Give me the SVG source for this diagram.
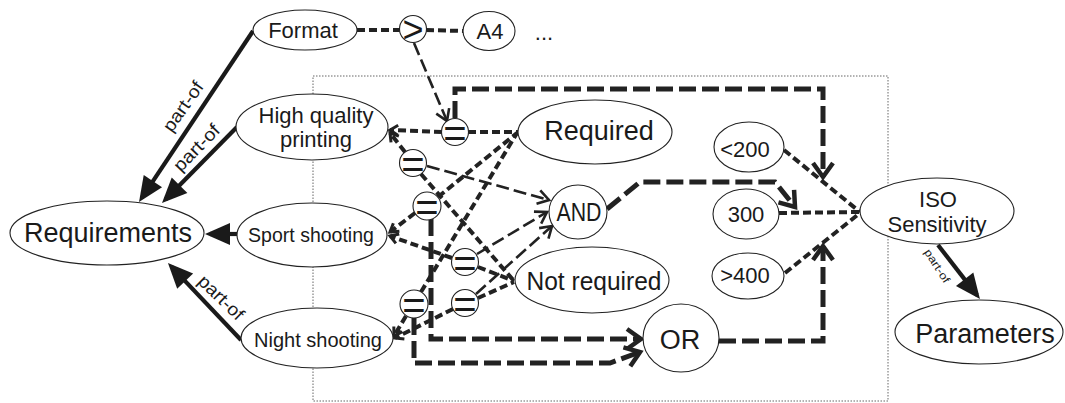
<svg xmlns="http://www.w3.org/2000/svg" width="1065" height="403" viewBox="0 0 1065 403">
  <style>
    .node { fill: #fff; stroke: #222; stroke-width: 1.1; }
    .lbl { font-family: "Liberation Sans", Arial, sans-serif; fill: #1a1a1a; text-anchor: middle; }
    .sym { font-family: "Liberation Sans", Arial, sans-serif; fill: #1a1a1a; text-anchor: middle; }
    .part { fill: none; stroke: #1a1a1a; stroke-width: 4.2; marker-end: url(#solid); }
    .sd { fill: none; stroke: #222; stroke-width: 4; stroke-dasharray: 8 4; }
    .ld { fill: none; stroke: #222; stroke-width: 2.6; stroke-dasharray: 13 5; marker-end: url(#vthin); }
    .lD { fill: none; stroke: #222; stroke-width: 5; stroke-dasharray: 17 6; marker-end: url(#vbig); stroke-linejoin: miter; }
    .toAttr { marker-end: url(#vsmall); }
    .frame { fill: none; stroke: #666; stroke-width: 1; stroke-dasharray: 1.5 1.5; }
  </style>
  <defs>
    <marker id="solid" markerUnits="userSpaceOnUse" markerWidth="26" markerHeight="22" refX="20" refY="11" orient="auto" overflow="visible">
      <path d="M0,0 L25,11 L0,22 z" fill="#1a1a1a"/>
    </marker>
    <marker id="vbig" markerUnits="userSpaceOnUse" markerWidth="16" markerHeight="22" refX="14" refY="10" orient="auto" overflow="visible">
      <path d="M0,0 L14,10 L0,20" fill="none" stroke="#222" stroke-width="4.5"/>
    </marker>
    <marker id="vthin" markerUnits="userSpaceOnUse" markerWidth="13" markerHeight="16" refX="11" refY="7" orient="auto" overflow="visible">
      <path d="M0,0 L11,7 L0,14" fill="none" stroke="#222" stroke-width="2.6"/>
    </marker>
    <marker id="vsmall" markerUnits="userSpaceOnUse" markerWidth="10" markerHeight="12" refX="8" refY="5" orient="auto" overflow="visible">
      <path d="M0,0 L8,5 L0,10" fill="none" stroke="#222" stroke-width="3"/>
    </marker>
  </defs>

  <rect width="1065" height="403" fill="#fff"/>

  <!-- scope box around the decision rules -->
  <rect class="frame" x="313" y="76" width="575" height="325"/>

  <g id="connectors">
    <!-- part-of relations -->
    <path class="part" d="M253,31 L141.8,197.8"/>
    <path class="part" d="M237,127 L165.5,199.4"/>
    <path class="part" d="M237,234 L210,234"/>
    <path class="part" d="M241,340 L171.4,266.6"/>
    <path class="part" d="M938,245 L976.9,295.1"/>
    <text class="lbl" font-size="18" textLength="57" lengthAdjust="spacingAndGlyphs" transform="translate(188,110) rotate(-55)">part-of</text>
    <text class="lbl" font-size="18" textLength="58" lengthAdjust="spacingAndGlyphs" transform="translate(201,152) rotate(-46)">part-of</text>
    <text class="lbl" font-size="18" textLength="56" lengthAdjust="spacingAndGlyphs" transform="translate(217,302) rotate(44)">part-of</text>
    <text class="lbl" font-size="11" textLength="38" lengthAdjust="spacingAndGlyphs" transform="translate(934,268) rotate(57)">part-of</text>

    <!-- Format > A4 -->
    <path class="sd" d="M357,30 L400,30"/>
    <path class="sd" d="M426,30 L463,31"/>
    <path class="ld" d="M414,43 L447,121"/>

    <!-- attribute / value comparisons -->
    <path class="sd toAttr" d="M442,132 L390,130"/>
    <path class="sd" d="M468,132 L518,132"/>
    <path class="sd toAttr" d="M405,152 L390,133"/>
    <path class="sd" d="M421,174 L514,281"/>
    <path class="sd" d="M438,197 L517,133"/>
    <path class="sd toAttr" d="M415,213 L390,232"/>
    <path class="sd toAttr" d="M452,258 L390,236"/>
    <path class="sd" d="M478,267 L514,281"/>
    <path class="sd" d="M421,292 L517,133"/>
    <path class="sd toAttr" d="M406,316 L394,336"/>
    <path class="sd toAttr" d="M453,309 L395,338"/>
    <path class="sd" d="M478,298 L514,282"/>

    <!-- ISO values -->
    <path class="sd" d="M784,150 L860,212"/>
    <path class="sd" d="M779,213 L860,212"/>
    <path class="sd" d="M785,273 L860,213"/>

    <!-- rule outputs into AND -->
    <path class="ld" d="M427,166 L549,200"/>
    <path class="ld" d="M477,254 L547,212"/>
    <path class="ld" d="M476,294 L552,226"/>

    <!-- rule outputs towards ISO values -->
    <path class="lD" d="M455,118 L455,89 L823,89 L823,177"/>
    <path class="lD" d="M607,209 L640,182 L775,182 L795,207"/>
    <path class="lD" d="M431,219 L431,339 L641,339"/>
    <path class="lD" d="M414,318 L414,363 L610,363 L640,352"/>
    <path class="lD" d="M719,341 L823,341 L823,246"/>
  </g>

  <g id="requirements">
    <ellipse class="node" cx="107" cy="233" rx="97" ry="32"/>
    <text class="lbl" x="108" y="242" font-size="27">Requirements</text>
  </g>
  <g id="format">
    <ellipse class="node" cx="305" cy="30" rx="52" ry="20"/>
    <text class="lbl" x="303" y="37.5" font-size="22">Format</text>
  </g>
  <g id="gt">
    <circle class="node" cx="413" cy="29" r="13.5"/>
    <text class="sym" x="413" y="41.5" font-size="36">&gt;</text>
  </g>
  <g id="a4">
    <ellipse class="node" cx="489" cy="31" rx="26" ry="19.5"/>
    <text class="lbl" x="490" y="38.5" font-size="22">A4</text>
  </g>
  <g id="more">
    <text class="lbl" x="544" y="40" font-size="22">...</text>
  </g>
  <g id="high-quality-printing">
    <ellipse class="node" cx="312" cy="127" rx="76" ry="33"/>
    <text class="lbl" x="316" y="123" font-size="22">High quality</text>
    <text class="lbl" x="316" y="147" font-size="22">printing</text>
  </g>
  <g id="sport-shooting">
    <ellipse class="node" cx="312" cy="235" rx="75" ry="32"/>
    <text class="lbl" x="311" y="242" font-size="19.5">Sport shooting</text>
  </g>
  <g id="night-shooting">
    <ellipse class="node" cx="317" cy="338" rx="76" ry="30"/>
    <text class="lbl" x="318" y="347" font-size="20">Night shooting</text>
  </g>

  <g id="eq1">
    <circle class="node" cx="455" cy="132" r="13.5"/>
    <text class="sym" x="455" y="147" font-size="40">=</text>
  </g>
  <g id="eq2">
    <circle class="node" cx="413" cy="163" r="13.5"/>
    <text class="sym" x="413" y="178" font-size="40">=</text>
  </g>
  <g id="eq3">
    <circle class="node" cx="427" cy="206" r="14"/>
    <text class="sym" x="427" y="221" font-size="40">=</text>
  </g>
  <g id="eq4">
    <circle class="node" cx="465" cy="262" r="13.5"/>
    <text class="sym" x="465" y="277" font-size="40">=</text>
  </g>
  <g id="eq5">
    <circle class="node" cx="414" cy="304" r="14"/>
    <text class="sym" x="414" y="319" font-size="40">=</text>
  </g>
  <g id="eq6">
    <circle class="node" cx="465" cy="303" r="13.5"/>
    <text class="sym" x="465" y="318" font-size="40">=</text>
  </g>

  <g id="required">
    <ellipse class="node" cx="595" cy="132" rx="77" ry="32"/>
    <text class="lbl" x="599" y="140" font-size="27">Required</text>
  </g>
  <g id="and">
    <ellipse class="node" cx="578" cy="212" rx="29" ry="27"/>
    <text class="lbl" x="579" y="221" font-size="25" textLength="45" lengthAdjust="spacingAndGlyphs">AND</text>
  </g>
  <g id="not-required">
    <ellipse class="node" cx="592" cy="280" rx="77" ry="33"/>
    <text class="lbl" x="594" y="290" font-size="25" textLength="135" lengthAdjust="spacingAndGlyphs">Not required</text>
  </g>
  <g id="or">
    <ellipse class="node" cx="681" cy="338" rx="38" ry="34"/>
    <text class="lbl" x="680" y="349" font-size="27">OR</text>
  </g>

  <g id="iso-lt200">
    <ellipse class="node" cx="749" cy="147" rx="35" ry="25"/>
    <text class="lbl" x="745" y="157" font-size="22">&lt;200</text>
  </g>
  <g id="iso-300">
    <ellipse class="node" cx="746" cy="214" rx="33" ry="25"/>
    <text class="lbl" x="746" y="222" font-size="22">300</text>
  </g>
  <g id="iso-gt400">
    <ellipse class="node" cx="748" cy="276" rx="36" ry="23"/>
    <text class="lbl" x="745" y="283" font-size="22">&gt;400</text>
  </g>
  <g id="iso-sensitivity">
    <ellipse class="node" cx="937" cy="211" rx="77" ry="33"/>
    <text class="lbl" x="938" y="207" font-size="22">ISO</text>
    <text class="lbl" x="937" y="232" font-size="22">Sensitivity</text>
  </g>
  <g id="parameters">
    <ellipse class="node" cx="979" cy="332" rx="84" ry="32"/>
    <text class="lbl" x="985" y="343" font-size="27">Parameters</text>
  </g>
</svg>
